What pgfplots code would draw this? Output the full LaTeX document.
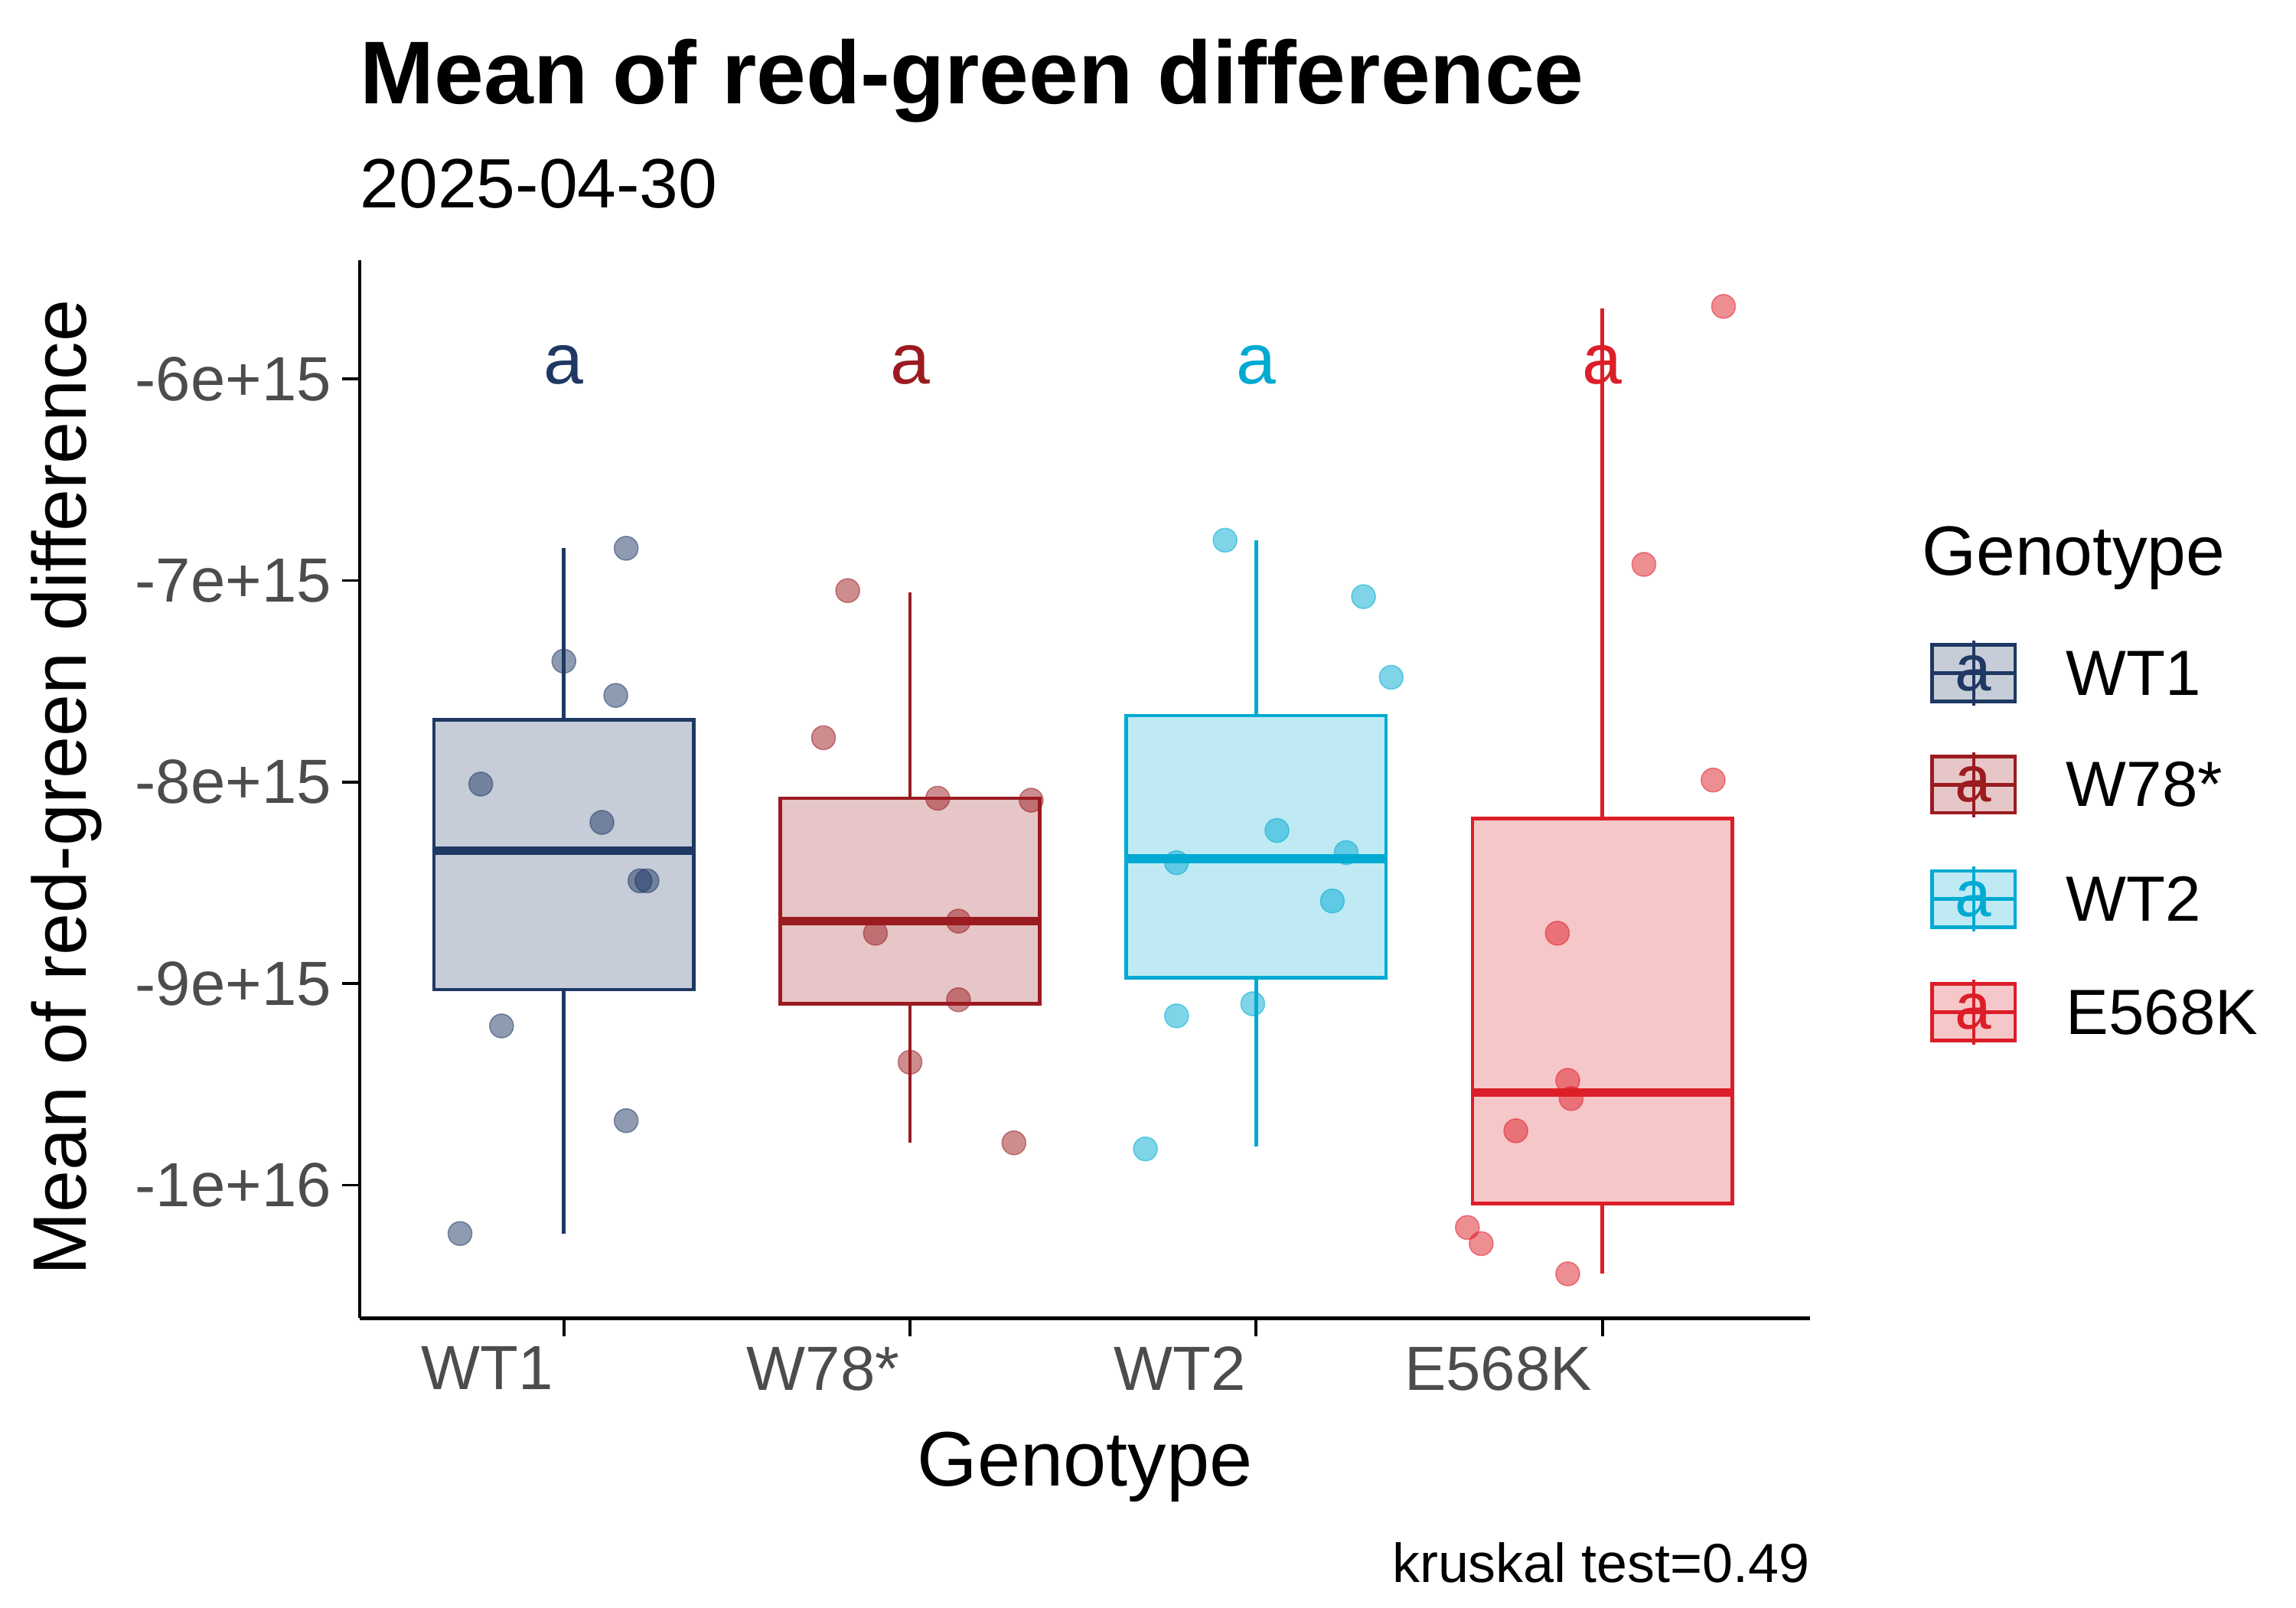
\documentclass[border=0pt]{standalone}
\usepackage{pgfplots}
\pgfplotsset{compat=1.18}
\usepackage{fontspec}
\setmainfont{Liberation Sans}
\definecolor{cA}{RGB}{31,56,100}
\definecolor{cB}{RGB}{155,27,32}
\definecolor{cC}{RGB}{0,170,210}
\definecolor{cD}{RGB}{220,30,40}
\newcommand{\bx}[7]{% color,pos,lw,q1,med,q3,uw
}
\begin{document}
\begin{tikzpicture}[x=0.5pt,y=0.5pt]
\useasboundingbox (-242,-195) rectangle (1303,887);
\begin{axis}[at={(0,0)},anchor=south west,scale only axis,width=488pt,height=356pt,
 xmin=0.41,xmax=4.6,ymin=-10.66,ymax=-5.41,
 axis lines=left, axis line style={-,line width=1.2pt},
 xtick={1,2,3,4},xticklabels={WT1,W78*,WT2,E568K},
 ytick={-10,-9,-8,-7,-6},yticklabels={-1e+16,-9e+15,-8e+15,-7e+15,-6e+15},
 tick style={line width=1pt,black}, tick align=outside, major tick length=6pt,
 ticklabel style={font=\fontsize{21}{24}\selectfont,text=black!70},
 xticklabel style={anchor=north east},
 clip=false]
% WT1
\addplot[cA,line width=1.2pt] coordinates {(1,-10.24)(1,-9.03)};
\addplot[cA,line width=1.2pt] coordinates {(1,-7.69)(1,-6.84)};
\addplot[draw=cA,line width=1.2pt,fill=cA,fill opacity=0.25] coordinates {(0.625,-9.03)(1.375,-9.03)(1.375,-7.69)(0.625,-7.69)} --cycle;
\addplot[cA,line width=3pt] coordinates {(0.625,-8.34)(1.375,-8.34)};
% W78*
\addplot[cB,line width=1.2pt] coordinates {(2,-9.79)(2,-9.10)};
\addplot[cB,line width=1.2pt] coordinates {(2,-8.08)(2,-7.06)};
\addplot[draw=cB,line width=1.2pt,fill=cB,fill opacity=0.25] coordinates {(1.625,-9.10)(2.375,-9.10)(2.375,-8.08)(1.625,-8.08)} --cycle;
\addplot[cB,line width=3pt] coordinates {(1.625,-8.69)(2.375,-8.69)};
% WT2
\addplot[cC,line width=1.2pt] coordinates {(3,-9.81)(3,-8.97)};
\addplot[cC,line width=1.2pt] coordinates {(3,-7.67)(3,-6.80)};
\addplot[draw=cC,line width=1.2pt,fill=cC,fill opacity=0.25] coordinates {(2.625,-8.97)(3.375,-8.97)(3.375,-7.67)(2.625,-7.67)} --cycle;
\addplot[cC,line width=3pt] coordinates {(2.625,-8.38)(3.375,-8.38)};
% E568K
\addplot[cD,line width=1.2pt] coordinates {(4,-10.44)(4,-10.09)};
\addplot[cD,line width=1.2pt] coordinates {(4,-8.18)(4,-5.65)};
\addplot[draw=cD,line width=1.2pt,fill=cD,fill opacity=0.25] coordinates {(3.625,-10.09)(4.375,-10.09)(4.375,-8.18)(3.625,-8.18)} --cycle;
\addplot[cD,line width=3pt] coordinates {(3.625,-9.54)(4.375,-9.54)};
\addplot[only marks,mark=*,mark size=4pt,cA,opacity=0.5] coordinates {(0.70,-10.24)(0.76,-8.01)(0.82,-9.21)(1.0,-7.40)(1.11,-8.20)(1.15,-7.57)(1.18,-6.84)(1.18,-9.68)(1.22,-8.49)(1.24,-8.49)};
\addplot[only marks,mark=*,mark size=4pt,cB,opacity=0.5] coordinates {(1.82,-7.05)(1.75,-7.78)(1.90,-8.75)(2.0,-9.39)(2.08,-8.08)(2.14,-8.69)(2.14,-9.08)(2.30,-9.79)(2.35,-8.09)};
\addplot[only marks,mark=*,mark size=4pt,cC,opacity=0.5] coordinates {(2.91,-6.80)(2.68,-9.82)(2.77,-9.16)(2.77,-8.40)(2.99,-9.10)(3.06,-8.24)(3.22,-8.59)(3.26,-8.35)(3.31,-7.08)(3.39,-7.48)};
\addplot[only marks,mark=*,mark size=4pt,cD,opacity=0.5] coordinates {(4.35,-5.64)(4.12,-6.92)(4.32,-7.99)(3.87,-8.75)(3.90,-9.48)(3.91,-9.57)(3.75,-9.73)(3.61,-10.21)(3.65,-10.29)(3.90,-10.44)};
\node[cA,font=\fontsize{24}{28}\selectfont] at (axis cs:1,-5.93) {a};
\node[cB,font=\fontsize{24}{28}\selectfont] at (axis cs:2,-5.93) {a};
\node[cC,font=\fontsize{24}{28}\selectfont] at (axis cs:3,-5.93) {a};
\node[cD,font=\fontsize{24}{28}\selectfont] at (axis cs:4,-5.93) {a};
\end{axis}
\node[anchor=base west,font=\bfseries\fontsize{30}{36}\selectfont,inner sep=0] at (0,817) {Mean of red-green difference};
\node[anchor=base west,font=\fontsize{23.5}{28}\selectfont,inner sep=0] at (0,747) {2025-04-30};
\node[rotate=90,font=\fontsize{25.5}{30}\selectfont] at (-197,357) {Mean of red-green difference};
\node[anchor=base,font=\fontsize{26}{30}\selectfont,inner sep=0] at (488,-113) {Genotype};
\node[anchor=base east,font=\fontsize{18.5}{22}\selectfont,inner sep=0] at (976,-178) {kruskal test=0.49};
\node[anchor=base west,font=\fontsize{23.5}{28}\selectfont,inner sep=0] at (1051,500) {Genotype};
\foreach \c/\t/\py in {cA/WT1/453,cB/W78*/528,cC/WT2/605,cD/E568K/681}{
 \pgfmathsetmacro\Y{887-\py}
 \draw[\c,line width=1pt] (1086,\Y-22) -- (1086,\Y+22);
 \fill[\c,opacity=0.25] (1058,\Y-19) rectangle (1114,\Y+19);
 \draw[\c,line width=1.2pt] (1058,\Y-19) rectangle (1114,\Y+19);
 \draw[\c,line width=1.2pt] (1058,\Y) -- (1114,\Y);
 \node[\c,font=\fontsize{22}{26}\selectfont] at (1086,\Y) {a};
 \node[anchor=west,font=\fontsize{21.5}{26}\selectfont,inner sep=0] at (1148,\Y) {\t};
}
\end{tikzpicture}
\end{document}
